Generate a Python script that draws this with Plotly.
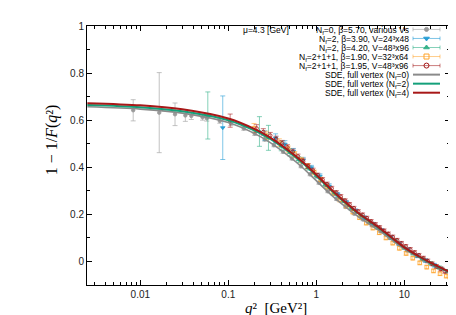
import plotly.graph_objects as go

# ---------------- data ----------------
Q_SDE = [0.0025, 0.01, 0.03, 0.1, 0.2, 0.3, 0.5, 0.7, 1, 1.5, 2, 3, 5, 7, 10, 15, 20, 33]
SDE_NF0 = [.657, .647, .630, .590, .543, .505, .444, .398, .343, .281, .241, .190, .135, .095, .053, .015, -.010, -.048]
SDE_NF2 = [.664, .655, .638, .600, .556, .520, .462, .418, .364, .300, .258, .204, .146, .103, .058, .018, -.008, -.046]
SDE_NF4 = [.672, .663, .646, .607, .562, .526, .467, .422, .368, .303, .261, .206, .148, .105, .060, .020, -.006, -.045]

Q_NF0 = [0.0083, 0.0164, 0.0248, 0.0325, 0.038, 0.051, 0.057, 0.08, 0.107, 0.15, 0.2, 0.26, 0.33, 0.42, 0.53,
         0.67, 0.85, 1.07, 1.35, 1.7, 2.15, 2.7, 3.4, 4.3, 5.4, 6.8, 8.6, 10.8, 13.6, 17, 21.5, 27]
Y_NF0 = [0.642, 0.632, 0.625, 0.620, 0.618, 0.612, 0.608, 0.597, 0.587, 0.565, 0.543, 0.518, 0.494, 0.466, 0.437,
         0.404, 0.370, 0.334, 0.298, 0.265, 0.232, 0.203, 0.178, 0.153, 0.128, 0.100, 0.074, 0.047, 0.024, 0.004, -0.014, -0.030]
E_NF0 = [0.045, 0.17, 0.048, 0.025, 0.015, 0.012, 0.012, 0.010, 0.010, 0.008, 0.008, 0.007, 0.007, 0.007, 0.006,
         0.006, 0.006, 0.006, 0.006, 0.006, 0.005, 0.005, 0.005, 0.005, 0.005, 0.005, 0.005, 0.005, 0.005, 0.005, 0.005, 0.005]

Q_B390 = [0.0865, 0.26, 0.345, 0.44, 0.55, 0.71, 0.88, 1.1, 1.4, 1.75, 2.2, 2.8, 3.5, 4.4, 5.5, 7, 8.8, 11, 14, 17.5, 22]
Y_B390 = [0.568, 0.535, 0.524, 0.498, 0.468, 0.430, 0.398, 0.362, 0.320, 0.284, 0.250, 0.215, 0.186, 0.158, 0.132,
          0.102, 0.075, 0.050, 0.024, 0.004, -0.016]
E_B390 = [0.135, 0.020, 0.018, 0.015, 0.012, 0.012, 0.010, 0.010, 0.010, 0.009, 0.009, 0.008, 0.008, 0.008, 0.008,
          0.008, 0.008, 0.008, 0.008, 0.008, 0.008]

Q_B420 = [0.0585, 0.226, 0.286, 0.4, 0.5, 0.63, 0.8, 1.0, 1.26, 1.6, 2.0, 2.5, 3.2, 4.0, 5.0, 6.3, 8, 10, 12.6, 16, 20, 25, 31]
Y_B420 = [0.620, 0.552, 0.525, 0.490, 0.463, 0.432, 0.398, 0.364, 0.326, 0.290, 0.258, 0.225, 0.193, 0.166, 0.143,
          0.116, 0.088, 0.058, 0.034, 0.010, -0.008, -0.026, -0.042]
E_B420 = [0.100, 0.063, 0.053, 0.020, 0.015, 0.012, 0.010, 0.010, 0.009, 0.009, 0.008, 0.008, 0.008, 0.007, 0.007,
          0.007, 0.007, 0.007, 0.007, 0.007, 0.007, 0.007, 0.007]

Q_B190 = [0.196, 0.27, 0.38, 0.48, 0.57, 0.68, 0.8, 0.95, 1.12, 1.32, 1.55, 1.85, 2.2, 2.6, 3.1, 3.7, 4.4, 5.2,
          6.2, 7.4, 8.8, 10.5, 12.5, 15, 18, 21.5, 25.5, 30, 33]
Y_B190 = [0.566, 0.535, 0.505, 0.476, 0.455, 0.430, 0.405, 0.378, 0.348, 0.318, 0.290, 0.262, 0.236, 0.210, 0.186,
          0.163, 0.142, 0.122, 0.100, 0.078, 0.056, 0.034, 0.014, -0.006, -0.024, -0.040, -0.052, -0.062, -0.066]
E_B190 = [0.020, 0.018, 0.016, 0.014, 0.012, 0.012, 0.011, 0.010, 0.010, 0.010, 0.009, 0.009, 0.009, 0.008, 0.008,
          0.008, 0.008, 0.008, 0.008, 0.008, 0.008, 0.008, 0.008, 0.008, 0.008, 0.008, 0.008, 0.008, 0.008]

Q_B195 = [0.105, 0.21, 0.25, 0.3, 0.35, 0.41, 0.47, 0.54, 0.62, 0.71, 0.81, 0.92, 1.04, 1.18, 1.33, 1.5, 1.69, 1.9,
          2.13, 2.39, 2.68, 3.0, 3.36, 3.76, 4.2, 4.7, 5.25, 5.9, 6.6, 7.4, 8.3, 9.3, 10.4, 11.7, 13.1, 14.7, 16.5,
          18.5, 20.7, 23.2, 26, 29]
Y_B195 = [0.598, 0.565, 0.550, 0.535, 0.520, 0.502, 0.485, 0.466, 0.446, 0.426, 0.405, 0.386, 0.366, 0.347, 0.328,
          0.310, 0.292, 0.275, 0.258, 0.242, 0.226, 0.212, 0.198, 0.184, 0.170, 0.157, 0.144, 0.130, 0.117, 0.104,
          0.090, 0.077, 0.064, 0.051, 0.038, 0.026, 0.014, 0.002, -0.010, -0.021, -0.032, -0.042]
E_B195 = [0.028, 0.016, 0.014, 0.013, 0.012, 0.012, 0.011, 0.011, 0.010, 0.010, 0.010, 0.010, 0.009, 0.009, 0.009,
          0.009, 0.009, 0.009, 0.008, 0.008, 0.008, 0.008, 0.008, 0.008, 0.008, 0.008, 0.008, 0.008, 0.008, 0.008,
          0.008, 0.008, 0.008, 0.008, 0.008, 0.008, 0.008, 0.008, 0.008, 0.008, 0.008, 0.008]

Y_TICKS = [0, 0.2, 0.4, 0.6, 0.8, 1]
Y_TICKTEXT = ["0", "0.2", "0.4", "0.6", "0.8", "1"]
X_TICKS = [0.01, 0.1, 1, 10]
X_TICKTEXT = ["0.01", "0.1", "1", "10"]

LEGEND_LABELS = [
    "N<sub>f</sub>=0, β=5.70, various Vs",
    "N<sub>f</sub>=2, β=3.90, V=24³x48",
    "N<sub>f</sub>=2, β=4.20, V=48³x96",
    "N<sub>f</sub>=2+1+1, β=1.90, V=32³x64",
    "N<sub>f</sub>=2+1+1, β=1.95, V=48³x96",
    "SDE, full vertex (N<sub>f</sub>=0)",
    "SDE, full vertex (N<sub>f</sub>=2)",
    "SDE, full vertex (N<sub>f</sub>=4)",
]

# ---------------- styles ----------------
W, H = 456, 315
L, R, T, B = 79, 442, 12, 277
SANS = "Liberation Sans, Arial, sans-serif"
SERIF = "Liberation Serif, Times New Roman, serif"

C_NF0, E_C_NF0 = "#9a9a9a", "rgba(175,175,175,0.75)"
C_B390, E_C_B390 = "#2a9fd6", "rgba(42,159,214,0.6)"
C_B420, E_C_B420 = "#36b28a", "rgba(54,178,138,0.6)"
C_B190, E_C_B190 = "#ffa32a", "rgba(255,163,42,0.55)"
C_B195, E_C_B195 = "#a31515", "rgba(163,21,21,0.55)"
C_S0, C_S2, C_S4 = "#8a8a8a", "#14a07a", "#a81818"


def px_x(p):
    return (p - L) / (R - L)


def px_y(p):
    return (B - p) / (B - T)


fig = go.Figure()


def data_trace(q, y, e, col, ecol, sym, size=4):
    fig.add_trace(go.Scatter(
        x=q, y=y, mode="markers",
        marker=dict(symbol=sym, size=size, color=col, line=dict(color=col, width=0.8)),
        error_y=dict(type="data", array=e, color=ecol, thickness=1, width=2.5),
        showlegend=False, hoverinfo="skip"))


data_trace(Q_NF0, Y_NF0, E_NF0, C_NF0, E_C_NF0, "circle", 3.5)
data_trace(Q_B390, Y_B390, E_B390, C_B390, E_C_B390, "triangle-down", 4)
data_trace(Q_B420, Y_B420, E_B420, C_B420, E_C_B420, "triangle-up", 4)
data_trace(Q_B190, Y_B190, E_B190, C_B190, E_C_B190, "square-open", 3.5)
data_trace(Q_B195, Y_B195, E_B195, C_B195, E_C_B195, "circle-open", 3.5)

for ys, col, wd in [(SDE_NF0, C_S0, 1.6), (SDE_NF2, C_S2, 2), (SDE_NF4, C_S4, 2)]:
    fig.add_trace(go.Scatter(x=Q_SDE, y=ys, mode="lines", line=dict(color=col, width=wd, shape="spline", smoothing=0.8),
                             showlegend=False, hoverinfo="skip"))

# ---------------- manual legend (sample on right of text) ----------------
ROW_Y = [15.5 + 9.25 * i for i in range(8)]
SX0, SX1, SXM = 405, 432, 418.5
TEXT_RIGHT = 402
leg_styles = [
    (C_NF0, E_C_NF0, "circle", 4, True),
    (C_B390, E_C_B390, "triangle-down", 5, True),
    (C_B420, E_C_B420, "triangle-up", 5, True),
    (C_B190, E_C_B190, "square-open", 5, True),
    (C_B195, E_C_B195, "circle-open", 5, True),
    (C_S0, None, None, 0, False),
    (C_S2, None, None, 0, False),
    (C_S4, None, None, 0, False),
]
for i, (lab, st) in enumerate(zip(LEGEND_LABELS, leg_styles)):
    yy = ROW_Y[i]
    col, ecol, sym, sz, is_data = st
    fig.add_annotation(x=px_x(TEXT_RIGHT), y=px_y(yy + 1), xref="paper", yref="paper", text=lab,
                       showarrow=False, xanchor="right", yanchor="middle", borderpad=0,
                       font=dict(family=SANS, size=8.5, color="black"))
    if is_data:
        fig.add_trace(go.Scatter(x=[SX0, SX1, None, SX0, SX0, None, SX1, SX1],
                                 y=[yy, yy, None, yy - 2, yy + 2, None, yy - 2, yy + 2],
                                 mode="lines", line=dict(color=ecol, width=1), xaxis="x2", yaxis="y2",
                                 showlegend=False, hoverinfo="skip"))
        fig.add_trace(go.Scatter(x=[SXM], y=[yy], mode="markers",
                                 marker=dict(symbol=sym, size=sz, color=col, line=dict(color=col, width=1)),
                                 xaxis="x2", yaxis="y2", showlegend=False, hoverinfo="skip"))
    else:
        fig.add_trace(go.Scatter(x=[SX0, SX1], y=[yy, yy], mode="lines",
                                 line=dict(color=col, width=2), xaxis="x2", yaxis="y2",
                                 showlegend=False, hoverinfo="skip"))

fig.add_annotation(x=px_x(234), y=px_y(16.5), xref="paper", yref="paper", text="μ=4.3 [GeV]",
                   showarrow=False, xanchor="left", yanchor="middle", borderpad=0,
                   font=dict(family=SANS, size=8.5, color="black"))

# axis titles
fig.add_annotation(x=px_x(44), y=px_y(129), xref="paper", yref="paper",
                   text="1 − 1/<i>F</i>(<i>q</i>²)", textangle=-90, showarrow=False,
                   xanchor="center", yanchor="middle", font=dict(family=SERIF, size=16, color="black"))
fig.add_annotation(x=px_x(268), y=px_y(301), xref="paper", yref="paper",
                   text="<i>q</i>²  [GeV²]", showarrow=False, borderpad=0,
                   xanchor="center", yanchor="middle", font=dict(family=SERIF, size=15, color="black"))

minor_x = []
for dec in [0.001, 0.01, 0.1, 1, 10]:
    for k in range(2, 10):
        minor_x.append(k * dec)

fig.update_layout(
    width=W, height=H, margin=dict(l=L, r=W - R, t=T, b=H - B, pad=0),
    paper_bgcolor="white", plot_bgcolor="white", showlegend=False,
    xaxis=dict(type="log", range=[-2.606, 1.52], tickvals=X_TICKS, ticktext=X_TICKTEXT,
               ticks="inside", ticklen=5, tickwidth=1, tickcolor="black",
               showline=True, linecolor="black", linewidth=1, mirror="allticks",
               showgrid=False, zeroline=False,
               tickfont=dict(family=SANS, size=10, color="#222"),
               minor=dict(tickvals=minor_x, ticks="inside", ticklen=3, tickcolor="black", showgrid=False)),
    yaxis=dict(range=[-0.1, 1.0], tickvals=Y_TICKS, ticktext=Y_TICKTEXT,
               ticks="inside", ticklen=5, tickwidth=1, tickcolor="black",
               showline=True, linecolor="black", linewidth=1, mirror="allticks",
               showgrid=False, zeroline=False,
               tickfont=dict(family=SANS, size=10, color="#222"),
               minor=dict(dtick=0.1, tick0=0, ticks="inside", ticklen=3, tickcolor="black", showgrid=False)),
    xaxis2=dict(overlaying="x", range=[L, R], visible=False, anchor="y2"),
    yaxis2=dict(overlaying="y", range=[B, T], visible=False, anchor="x2"),
)

fig.write_html("out.html")
